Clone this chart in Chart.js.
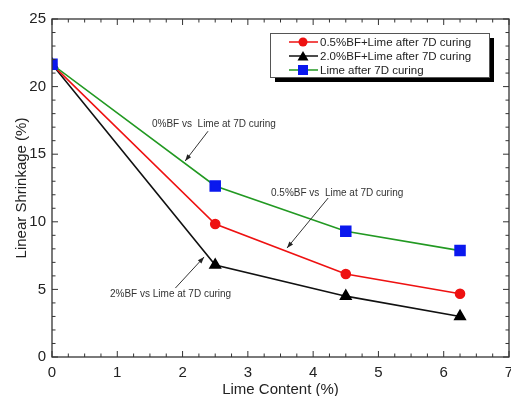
<!DOCTYPE html>
<html><head><meta charset="utf-8">
<script src="https://cdn.jsdelivr.net/npm/chart.js@4/dist/chart.umd.min.js"></script>
<style>html,body{margin:0;padding:0;background:#fff}#w{width:511px;height:396px}</style>
</head><body><div id="w"><canvas id="c" width="511" height="396"></canvas></div>
<script>
const limeContent = [0, 2.5, 4.5, 6.25];
const limeOnly = [21.65, 12.65, 9.3, 7.87];
const bf05 = [21.65, 9.84, 6.14, 4.68];
const bf20 = [21.65, 6.8, 4.5, 3.0];
const seriesNames = ['0.5%BF+Lime after 7D curing', '2.0%BF+Lime after 7D curing', 'Lime after 7D curing'];
const xTicks = [0,1,2,3,4,5,6,7];
const yTicks = [0,5,10,15,20,25];
const notes = [
  {text:'0%BF vs  Lime at 7D curing', tx:152, ty:124, from:[2.39, 16.7], to:[2.04, 14.5]},
  {text:'0.5%BF vs  Lime at 7D curing', tx:271, ty:193, from:[4.23, 11.76], to:[3.6, 8.06]},
  {text:'2%BF vs Lime at 7D curing', tx:110, ty:294, from:[1.89, 5.1], to:[2.33, 7.4]}
];
const pts = a => limeContent.map((x,i)=>({x, y:a[i]}));

const FONT = '"Liberation Sans", Arial, sans-serif';
const noPad = s => { s.paddingLeft=0; s.paddingRight=0; s.paddingTop=0; s.paddingBottom=0; };

const decor = {
  id:'decor',
  afterDraw(ch){
    const c = ch.ctx, a = ch.chartArea, xs = ch.scales.x, ys = ch.scales.y;
    c.save();
    c.strokeStyle = '#333'; c.lineWidth = 1.3;
    c.strokeRect(a.left, a.top, a.right-a.left, a.bottom-a.top);
    c.lineWidth = 1;
    for (let k=0; k<=28; k++) {
      const v = k*0.25;
      const px = xs.getPixelForValue(v);
      const L = (k%4===0)?6:3.5;
      c.beginPath(); c.moveTo(px,a.bottom); c.lineTo(px,a.bottom-L); c.stroke();
      c.beginPath(); c.moveTo(px,a.top); c.lineTo(px,a.top+L); c.stroke();
    }
    for (let v=0; v<=25; v+=1) {
      const py = ys.getPixelForValue(v);
      const L = (v%5===0)?6:3.5;
      c.beginPath(); c.moveTo(a.left,py); c.lineTo(a.left+L,py); c.stroke();
      c.beginPath(); c.moveTo(a.right,py); c.lineTo(a.right-L,py); c.stroke();
    }
    // annotations
    c.font = '10px ' + FONT; c.textBaseline='middle';
    notes.forEach(n=>{
      c.fillStyle='#333';
      c.fillText(n.text, n.tx, n.ty);
      const x1=xs.getPixelForValue(n.from[0]), y1=ys.getPixelForValue(n.from[1]);
      const x2=xs.getPixelForValue(n.to[0]), y2=ys.getPixelForValue(n.to[1]);
      c.strokeStyle='#333'; c.lineWidth=1;
      c.beginPath(); c.moveTo(x1,y1); c.lineTo(x2,y2); c.stroke();
      const ang=Math.atan2(y2-y1,x2-x1), h=7, w=0.35;
      c.beginPath(); c.moveTo(x2,y2);
      c.lineTo(x2-h*Math.cos(ang-w), y2-h*Math.sin(ang-w));
      c.lineTo(x2-h*Math.cos(ang+w), y2-h*Math.sin(ang+w));
      c.closePath(); c.fillStyle='#222'; c.fill();
    });
    // legend
    const lx=270, ly=33, lw=219, lh=44;
    c.fillStyle='#000'; c.fillRect(lx+5, ly+5, lw, lh);
    c.fillStyle='#fff'; c.fillRect(lx, ly, lw, lh);
    c.strokeStyle='#555'; c.lineWidth=1; c.strokeRect(lx+0.5, ly+0.5, lw, lh);
    const rows = [
      {name:seriesNames[0], line:'#ee1111', fill:'#ee1111', shape:'circle'},
      {name:seriesNames[1], line:'#111', fill:'#000', shape:'tri'},
      {name:seriesNames[2], line:'#229922', fill:'#0a18ee', shape:'sq'}
    ];
    c.font = '11.5px ' + FONT; c.textBaseline='middle';
    rows.forEach((r,i)=>{
      const y = ly+9+i*14;
      c.strokeStyle=r.line; c.lineWidth=1.5;
      c.beginPath(); c.moveTo(289,y); c.lineTo(318,y); c.stroke();
      c.fillStyle=r.fill;
      const mx=303;
      if (r.shape==='circle'){ c.beginPath(); c.arc(mx,y,4.5,0,Math.PI*2); c.fill(); }
      else if (r.shape==='tri'){ c.beginPath(); c.moveTo(mx,y-5); c.lineTo(mx+5.5,y+4.5); c.lineTo(mx-5.5,y+4.5); c.closePath(); c.fill(); }
      else { c.fillRect(mx-5,y-5,10,10); }
      c.fillStyle='#222'; c.fillText(r.name, 320, y+0.5);
    });
    c.restore();
  }
};

new Chart(document.getElementById('c'), {
  type:'line',
  data:{datasets:[
    {label:seriesNames[2], data:pts(limeOnly), borderColor:'#229922', backgroundColor:'#0a18ee', pointBackgroundColor:'#0a18ee', pointBorderColor:'#0a18ee', pointStyle:'rect', pointRadius:7, borderWidth:1.6, tension:0},
    {label:seriesNames[0], data:pts(bf05), borderColor:'#ee1111', backgroundColor:'#ee1111', pointBackgroundColor:'#ee1111', pointBorderColor:'#ee1111', pointStyle:'circle', pointRadius:4.5, borderWidth:1.6, tension:0},
    {label:seriesNames[1], data:pts(bf20), borderColor:'#111', backgroundColor:'#000', pointBackgroundColor:'#000', pointBorderColor:'#000', pointStyle:'triangle', pointRadius:6, borderWidth:1.6, tension:0}
  ]},
  options:{
    responsive:false, animation:false, devicePixelRatio:1,
    layout:{autoPadding:false, padding:{left:13, top:19, right:2, bottom:0}},
    plugins:{legend:{display:false}, tooltip:{enabled:false}},
    scales:{
      x:{type:'linear', min:0, max:7,
        afterBuildTicks:s=>{s.ticks=xTicks.map(v=>({value:v}));},
        afterFit:s=>{s.height=39; noPad(s);},
        grid:{display:false, drawTicks:false}, border:{display:false},
        ticks:{color:'#222', font:{family:FONT, size:15}, padding:7, maxRotation:0},
        title:{display:true, text:'Lime Content (%)', color:'#222', font:{family:FONT, size:15}, padding:{top:0,bottom:-3}}
      },
      y:{type:'linear', min:0, max:25,
        afterBuildTicks:s=>{s.ticks=yTicks.map(v=>({value:v}));},
        afterFit:s=>{s.width=39; noPad(s);},
        grid:{display:false, drawTicks:false}, border:{display:false},
        ticks:{color:'#222', font:{family:FONT, size:15}, padding:6},
        title:{display:true, text:'Linear Shrinkage (%)', color:'#222', font:{family:FONT, size:15}, padding:{top:0,bottom:0}}
      }
    }
  },
  plugins:[decor]
});
</script>
</body></html>
